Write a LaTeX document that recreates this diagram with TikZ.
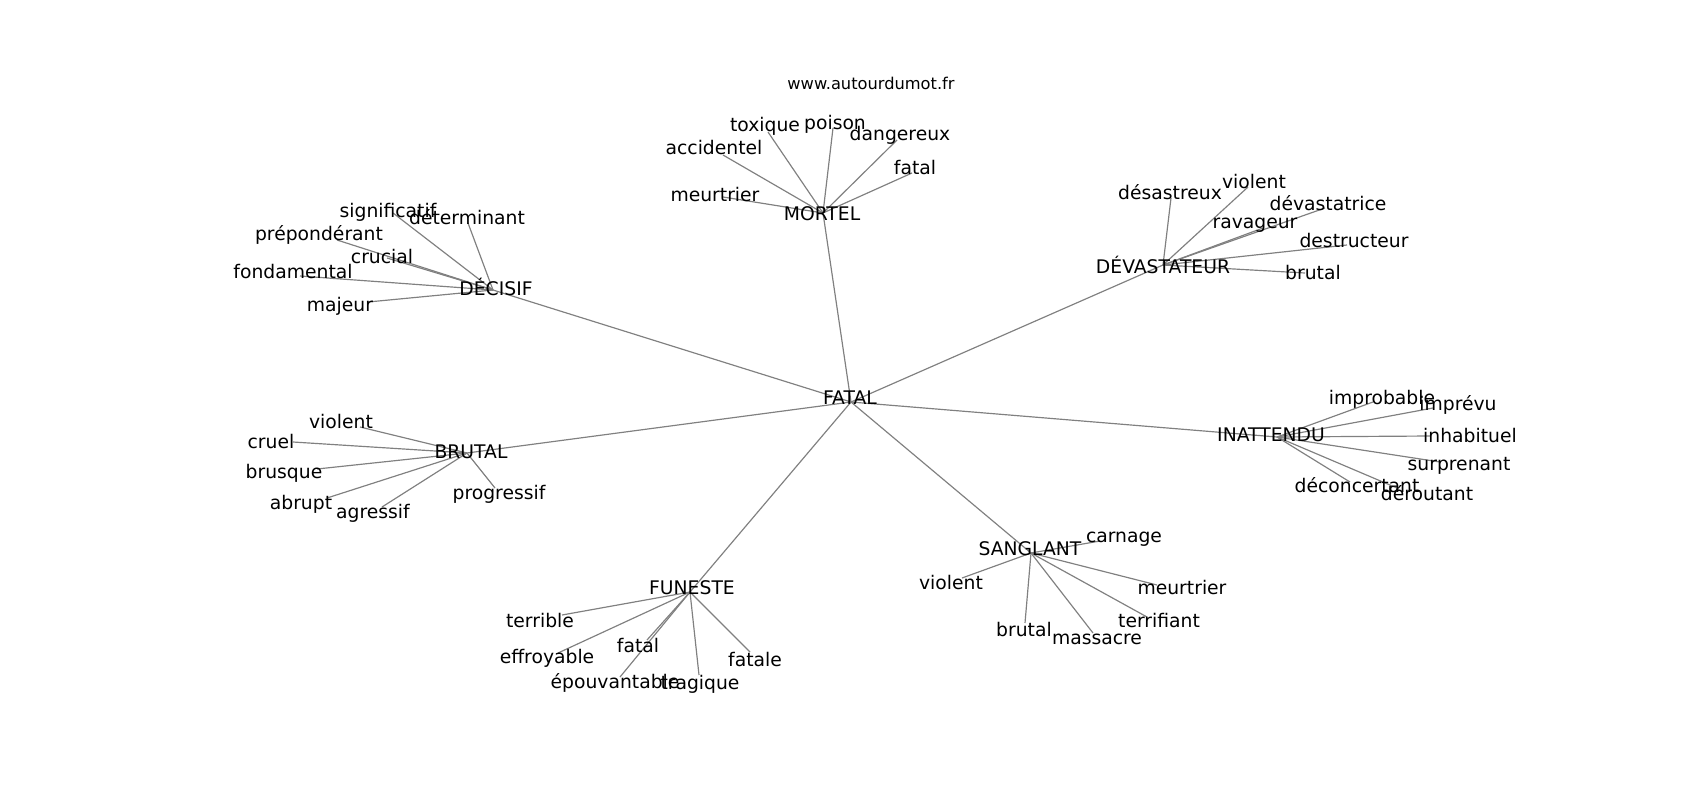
\documentclass[tikz,border=0pt]{standalone}
\usepackage{fontspec}
\setmainfont{DejaVu Sans}
\tikzset{
  edge/.style={draw=black!50, line width=0.85pt},
  lbl/.style={inner sep=0pt, text height=0.92em, text depth=0pt, anchor=center, font=\fontsize{13.5}{16}\selectfont},
  site/.style={inner sep=0pt, text height=0.92em, text depth=0pt, anchor=center, font=\fontsize{11.7}{14}\selectfont}
}
\begin{document}
\begin{tikzpicture}[x=0.72pt, y=-0.72pt]
\useasboundingbox (0,0) rectangle (1700,800);
% hub coordinates
\coordinate (fatal) at (851,402);
\coordinate (mortel) at (823,213);
\coordinate (decisif) at (493,290);
\coordinate (devast) at (1163,265);
\coordinate (inatt) at (1277,437);
\coordinate (brutal) at (467,453);
\coordinate (funeste) at (690,592);
\coordinate (sanglant) at (1031,553);
% leaf coordinates
\coordinate (m1) at (768,132);
\coordinate (m2) at (833,128);
\coordinate (m3) at (897,140);
\coordinate (m4) at (723,155);
\coordinate (m5) at (912,173);
\coordinate (m6) at (723,197);
\coordinate (d1) at (393,213);
\coordinate (d2) at (468,223);
\coordinate (d3) at (337,240);
\coordinate (d4) at (387,258);
\coordinate (d5) at (300,276);
\coordinate (d6) at (368,302);
\coordinate (v1) at (1171,198);
\coordinate (v2) at (1248,187);
\coordinate (v3) at (1325,208);
\coordinate (v4) at (1263,228);
\coordinate (v5) at (1347,245);
\coordinate (v6) at (1305,273);
\coordinate (i1) at (1373,402);
\coordinate (i2) at (1433,408);
\coordinate (i3) at (1430,436);
\coordinate (i4) at (1440,462);
\coordinate (i5) at (1350,482);
\coordinate (i6) at (1397,488);
\coordinate (b1) at (360,427);
\coordinate (b2) at (293,442);
\coordinate (b3) at (317,469);
\coordinate (b4) at (327,498);
\coordinate (b5) at (382,507);
\coordinate (b6) at (495,488);
\coordinate (f1) at (562,615);
\coordinate (f2) at (558,653);
\coordinate (f3) at (647,640);
\coordinate (f4) at (620,677);
\coordinate (f5) at (699,675);
\coordinate (f6) at (750,652);
\coordinate (s1) at (1100,541);
\coordinate (s2) at (962,578);
\coordinate (s3) at (1157,585);
\coordinate (s4) at (1147,617);
\coordinate (s5) at (1025,623);
\coordinate (s6) at (1093,633);
% edges
\foreach \h in {mortel,decisif,devast,inatt,brutal,funeste,sanglant}
  \draw[edge] (fatal) -- (\h);
\foreach \k in {1,...,6} {
  \draw[edge] (mortel) -- (m\k);
  \draw[edge] (decisif) -- (d\k);
  \draw[edge] (devast) -- (v\k);
  \draw[edge] (inatt) -- (i\k);
  \draw[edge] (brutal) -- (b\k);
  \draw[edge] (funeste) -- (f\k);
  \draw[edge] (sanglant) -- (s\k);
}
% labels
\node[site] (site) at (871,83) {www.autourdumot.fr};
\node[lbl] (fatal-t) at (850,398) {FATAL};
\node[lbl] (mortel-t) at (822,214) {MORTEL};
\node[lbl] (decisif-t) at (496,289) {DÉCISIF};
\node[lbl] (devast-t) at (1163,267) {DÉVASTATEUR};
\node[lbl] (inatt-t) at (1271,435) {INATTENDU};
\node[lbl] (brutal-t) at (471,452) {BRUTAL};
\node[lbl] (funeste-t) at (692,588) {FUNESTE};
\node[lbl] (sanglant-t) at (1030,549) {SANGLANT};
% MORTEL
\node[lbl] (m1-t) at (765,125) {toxique};
\node[lbl] (m2-t) at (835,123) {poison};
\node[lbl] (m3-t) at (900,134) {dangereux};
\node[lbl] (m4-t) at (714,148) {accidentel};
\node[lbl] (m5-t) at (915,168) {fatal};
\node[lbl] (m6-t) at (715,195) {meurtrier};
% DECISIF
\node[lbl] (d1-t) at (388,211) {significatif};
\node[lbl] (d2-t) at (467,218) {déterminant};
\node[lbl] (d3-t) at (319,234) {prépondérant};
\node[lbl] (d4-t) at (382,257) {crucial};
\node[lbl] (d5-t) at (293,272) {fondamental};
\node[lbl] (d6-t) at (340,305) {majeur};
% DEVASTATEUR
\node[lbl] (v1-t) at (1170,193) {désastreux};
\node[lbl] (v2-t) at (1254,182) {violent};
\node[lbl] (v3-t) at (1328,204) {dévastatrice};
\node[lbl] (v4-t) at (1255,222) {ravageur};
\node[lbl] (v5-t) at (1354,241) {destructeur};
\node[lbl] (v6-t) at (1313,273) {brutal};
% INATTENDU
\node[lbl] (i1-t) at (1382,398) {improbable};
\node[lbl] (i2-t) at (1458,404) {imprévu};
\node[lbl] (i3-t) at (1470,436) {inhabituel};
\node[lbl] (i4-t) at (1459,464) {surprenant};
\node[lbl] (i5-t) at (1357,486) {déconcertant};
\node[lbl] (i6-t) at (1427,494) {déroutant};
% BRUTAL
\node[lbl] (b1-t) at (341,422) {violent};
\node[lbl] (b2-t) at (271,442) {cruel};
\node[lbl] (b3-t) at (284,472) {brusque};
\node[lbl] (b4-t) at (301,503) {abrupt};
\node[lbl] (b5-t) at (373,512) {agressif};
\node[lbl] (b6-t) at (499,493) {progressif};
% FUNESTE
\node[lbl] (f1-t) at (540,621) {terrible};
\node[lbl] (f2-t) at (547,657) {effroyable};
\node[lbl] (f3-t) at (638,646) {fatal};
\node[lbl] (f4-t) at (615,682) {épouvantable};
\node[lbl] (f5-t) at (700,683) {tragique};
\node[lbl] (f6-t) at (755,660) {fatale};
% SANGLANT
\node[lbl] (s1-t) at (1124,536) {carnage};
\node[lbl] (s2-t) at (951,583) {violent};
\node[lbl] (s3-t) at (1182,588) {meurtrier};
\node[lbl] (s4-t) at (1159,621) {terrifiant};
\node[lbl] (s5-t) at (1024,630) {brutal};
\node[lbl] (s6-t) at (1097,638) {massacre};
\end{tikzpicture}
\end{document}
